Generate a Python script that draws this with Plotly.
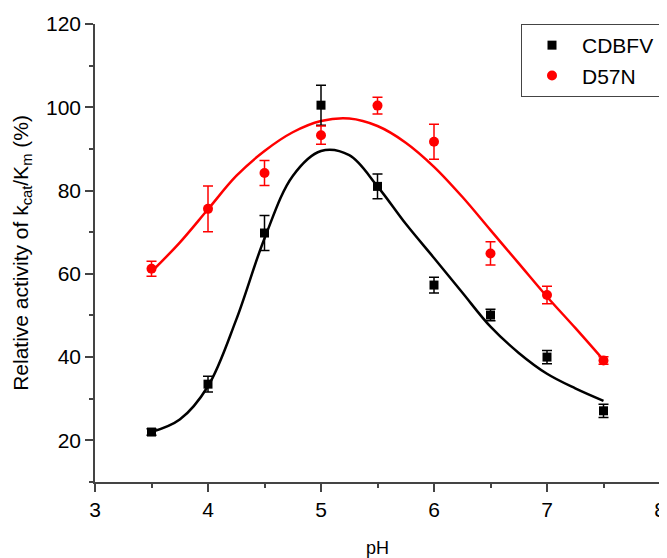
import plotly.graph_objects as go

# Measured data
ph = [3.5, 4.0, 4.5, 5.0, 5.5, 6.0, 6.5, 7.0, 7.5]
cdbfv = [22.0, 33.5, 69.8, 100.5, 81.0, 57.3, 50.1, 40.0, 27.1]
cdbfv_err = [0.8, 1.9, 4.2, 4.8, 3.0, 1.9, 1.4, 1.6, 1.6]
d57n = [61.2, 75.6, 84.2, 93.3, 100.4, 91.7, 64.9, 54.9, 39.2]
d57n_err = [1.8, 5.5, 3.0, 2.2, 2.0, 4.2, 2.8, 2.1, 0.9]

# Fitted curves
fit_ph = [3.5, 3.75, 4.0, 4.25, 4.5, 4.75, 5.0, 5.25, 5.5, 5.75, 6.0, 6.25, 6.5, 6.75, 7.0, 7.25, 7.5]
fit_black = [22.0, 25.0, 33.0, 49.0, 68.5, 83.5, 89.5, 88.5, 81.0, 72.0, 63.8, 55.5, 47.3, 41.0, 36.0, 32.5, 29.5]
fit_red = [60.5, 67.5, 75.5, 83.5, 89.5, 94.0, 96.7, 97.3, 95.5, 91.5, 85.7, 78.5, 70.5, 62.5, 54.5, 47.0, 39.3]

FONT = "Liberation Sans, Arial, sans-serif"
AX = "#444444"

fig = go.Figure()
fig.add_trace(go.Scatter(x=fit_ph, y=fit_black, mode="lines",
                         line=dict(color="black", width=2.5, shape="spline", smoothing=1.0),
                         showlegend=False, hoverinfo="skip"))
fig.add_trace(go.Scatter(x=fit_ph, y=fit_red, mode="lines",
                         line=dict(color="#ff0000", width=2.5, shape="spline", smoothing=1.0),
                         showlegend=False, hoverinfo="skip"))
fig.add_trace(go.Scatter(x=ph, y=cdbfv, mode="markers", name="CDBFV",
                         marker=dict(symbol="square", size=9, color="black"),
                         error_y=dict(type="data", array=cdbfv_err, color="black", thickness=1.5, width=5)))
fig.add_trace(go.Scatter(x=ph, y=d57n, mode="markers", name="D57N",
                         marker=dict(symbol="circle", size=10, color="#ff0000"),
                         error_y=dict(type="data", array=d57n_err, color="#ff0000", thickness=1.5, width=5)))

axis_common = dict(showline=True, linecolor=AX, linewidth=1.5, ticks="outside", ticklen=8, tickwidth=1.5,
                   tickcolor=AX, showgrid=False, zeroline=False, mirror=False, automargin=False,
                   ticklabeloverflow="allow",
                   tickfont=dict(family=FONT, size=21, color="black"))
fig.update_xaxes(range=[3, 8], dtick=1, tick0=3,
                 minor=dict(dtick=0.5, ticklen=4, tickwidth=1.5, tickcolor=AX, ticks="outside"),
                 title=dict(text="pH", font=dict(family=FONT, size=18, color="black"), standoff=22),
                 **axis_common)
fig.update_yaxes(range=[10, 120], dtick=20, tick0=0,
                 minor=dict(dtick=10, ticklen=4, tickwidth=1.5, tickcolor=AX, ticks="outside"),
                 title=dict(text="Relative activity of k<sub>cat</sub>/K<sub>m</sub> (%)",
                            font=dict(family=FONT, size=21, color="black"), standoff=12),
                 **axis_common)

# The page body has an 8px default margin, so the figure is offset accordingly
fig.update_layout(
    width=659, height=550,
    margin=dict(l=87, r=7, t=16, b=76),
    paper_bgcolor="white", plot_bgcolor="white",
    font=dict(family=FONT, color="black"),
    legend=dict(x=1.0, y=1.0, xanchor="right", yanchor="top", bordercolor=AX, borderwidth=1,
                font=dict(family=FONT, size=21, color="black"), bgcolor="white",
                itemwidth=50, tracegroupgap=0),
)

fig.write_html("out.html")
